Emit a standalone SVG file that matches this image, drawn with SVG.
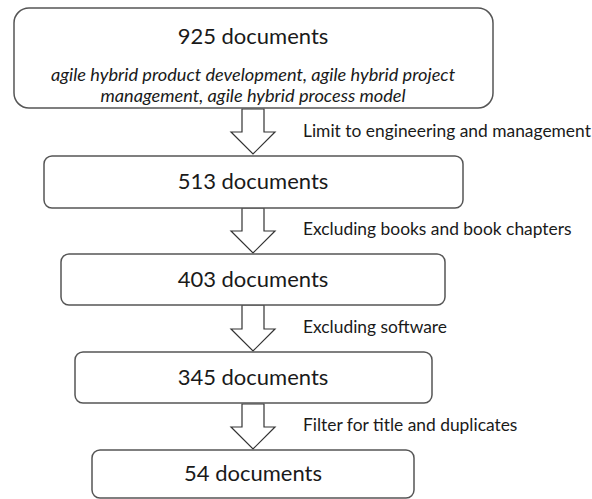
<svg xmlns="http://www.w3.org/2000/svg" width="592" height="499" viewBox="0 0 592 499">
<style>
.box{fill:#fff;stroke:#555;stroke-width:1.5}
.arr{fill:#fff;stroke:#333;stroke-width:1.2;stroke-linejoin:miter}
.t{font-family:Lato,"Open Sans","Liberation Sans",sans-serif;fill:#1a1a1a;text-anchor:middle}
.big{font-size:22px}
.it{font-size:18.2px;font-style:italic}
.lbl{font-family:Lato,"Open Sans","Liberation Sans",sans-serif;font-size:17.4px;fill:#1a1a1a}
</style>
<rect width="592" height="499" fill="#fff"/>
<g id="connectors">
<path class="arr" d="M242,109 V132 H231 L253,154 L275,132 H264 V109 Z"/>
<path class="arr" d="M242,208 V231 H231 L253,253 L275,231 H264 V208 Z"/>
<path class="arr" d="M242,305 V329 H231 L253,351 L275,329 H264 V305 Z"/>
<path class="arr" d="M242,404 V427 H231 L253,449 L275,427 H264 V404 Z"/>
<text class="lbl" x="303" y="137">Limit to engineering and management</text>
<text class="lbl" x="303" y="235">Excluding books and book chapters</text>
<text class="lbl" x="303" y="333">Excluding software</text>
<text class="lbl" x="303" y="431">Filter for title and duplicates</text>
</g>
<g id="n1">
<rect class="box" x="14" y="8" width="479" height="100" rx="15"/>
<text class="t big" x="253" y="44">925 documents</text>
<text class="t it" x="253" y="81">agile hybrid product development, agile hybrid project</text>
<text class="t it" x="253" y="102">management, agile hybrid process model</text>
</g>
<g id="n2">
<rect class="box" x="44" y="156" width="419" height="52" rx="8"/>
<text class="t big" x="253" y="189">513 documents</text>
</g>
<g id="n3">
<rect class="box" x="61" y="254" width="384" height="51" rx="8"/>
<text class="t big" x="253" y="287">403 documents</text>
</g>
<g id="n4">
<rect class="box" x="75" y="352" width="357" height="51" rx="8"/>
<text class="t big" x="253" y="385">345 documents</text>
</g>
<g id="n5">
<rect class="box" x="92" y="450" width="322" height="48" rx="8"/>
<text class="t big" x="253" y="481">54 documents</text>
</g>
</svg>
